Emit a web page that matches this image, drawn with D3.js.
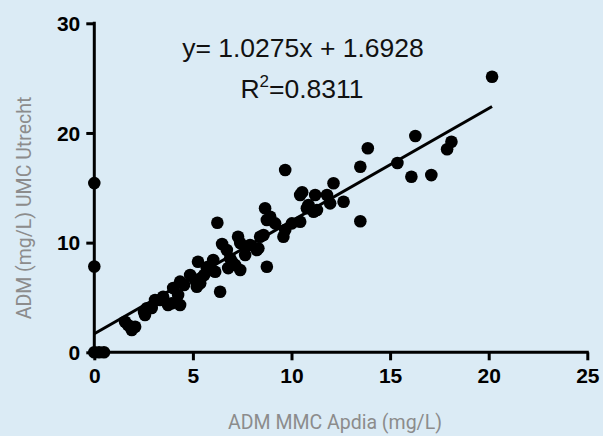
<!DOCTYPE html>
<html>
<head>
<meta charset="utf-8">
<script src="https://cdn.jsdelivr.net/npm/d3@7"></script>
<style>
  html, body { margin: 0; padding: 0; background: #dbebf5; }
  svg { display: block; }
</style>
</head>
<body>
<svg id="chart" width="603" height="436"></svg>
<script>
// ADM measured at MMC (Apdia) vs UMC Utrecht, mg/L
const xValues = [
  0, 0, 0, 0.24, 0.49,
  1.56, 1.90, 2.07, 1.71, 2.57, 2.66, 2.91, 2.52,
  3.49, 3.74, 3.93, 4.35, 3.33, 4.00, 4.35, 4.86, 4.55, 5.20,
  5.26, 5.37, 5.71, 5.77, 6.03, 6.13, 6.24, 6.38,
  6.72, 6.89, 7.29, 7.14, 7.40, 8.24, 8.41, 8.75,
  8.66, 8.75, 9.68, 8.92, 9.17, 9.68, 10.02, 10.44, 9.59, 8.58, 8.32,
  10.44, 11.20, 10.86, 11.29, 11.80, 12.13, 11.96, 12.64, 13.49,
  13.49, 13.87, 15.37, 16.08, 16.28, 17.09, 17.89, 18.11, 20.17,
  10.78, 11.12, 10.54,
  6.48, 6.99, 7.65, 7.90, 6.79, 7.40,
  5.11, 5.57, 5.87, 3.08, 4.25
];
const yValues = [
  15.43, 7.82, 0, 0, 0,
  2.79, 2.03, 2.33, 2.49, 3.40, 4.01, 4.04, 3.70,
  5.07, 4.31, 4.47, 4.31, 4.77, 5.86, 6.44, 7.05, 6.13, 5.98,
  8.26, 6.29, 7.66, 7.80, 8.41, 7.35, 11.81, 5.52,
  9.33, 8.57, 10.54, 7.96, 9.96, 9.33, 10.54, 7.80,
  13.13, 12.06, 16.62, 12.36, 11.76, 11.15, 11.76, 11.91, 10.54, 10.69, 9.48,
  14.34, 14.34, 13.43, 12.97, 14.34, 15.41, 13.58, 13.73, 11.95,
  16.92, 18.60, 17.26, 16.01, 19.72, 16.16, 18.51, 19.20, 25.12,
  13.13, 12.82, 14.60,
  9.87, 8.23, 8.87, 9.78, 7.68, 7.50,
  6.59, 7.05, 7.50, 4.77, 5.22
];

// Linear fit reported on the chart
const slope = 1.0275;
const intercept = 1.6928;
const rSquared = 0.8311;

const xTicks = [0, 5, 10, 15, 20, 25];
const yTicks = [0, 10, 20, 30];

const xTitle = "ADM MMC Apdia (mg/L)";
const yTitle = "ADM (mg/L) UMC Utrecht";

const svg = d3.select("#chart");

const x = d3.scaleLinear().domain([0, 25]).range([94.3, 587.3]);
const y = d3.scaleLinear().domain([0, 30]).range([352.3, 23.3]);

const tickFont = "'Liberation Sans', Arial, sans-serif";

// Axes
const xAxis = svg.append("g")
  .attr("transform", `translate(0,${y(0)})`)
  .call(d3.axisBottom(x).tickValues(xTicks).tickSize(8).tickPadding(8).tickFormat(d3.format("d")));
const yAxis = svg.append("g")
  .attr("transform", `translate(${x(0)},0)`)
  .call(d3.axisLeft(y).tickValues(yTicks).tickSize(8).tickPadding(6).tickFormat(d3.format("d")));

[xAxis, yAxis].forEach(g => {
  g.select(".domain").remove();
  g.selectAll(".tick line").attr("stroke", "#000").attr("stroke-width", 3);
  g.selectAll(".tick text")
    .attr("fill", "#000")
    .style("font-family", tickFont)
    .style("font-weight", "bold")
    .style("font-size", "21px");
});
xAxis.selectAll(".tick text").attr("dy", "0.71em");
yAxis.selectAll(".tick text").attr("dy", "0.35em");

// Plain axis lines
svg.append("line")
  .attr("x1", x(0) - 1.5).attr("x2", x(25) + 1.5)
  .attr("y1", y(0)).attr("y2", y(0))
  .attr("stroke", "#000").attr("stroke-width", 3);
svg.append("line")
  .attr("x1", x(0)).attr("x2", x(0))
  .attr("y1", y(30) - 1.5).attr("y2", y(0) + 1.5)
  .attr("stroke", "#000").attr("stroke-width", 3);

// Regression line across the measured range
const points = xValues.map((v, i) => ({ x: v, y: yValues[i] }));
const xExt = d3.extent(xValues);
svg.append("line")
  .attr("x1", x(xExt[0])).attr("y1", y(slope * xExt[0] + intercept))
  .attr("x2", x(xExt[1])).attr("y2", y(slope * xExt[1] + intercept))
  .attr("stroke", "#000").attr("stroke-width", 3);

// Data points
svg.append("g").selectAll("circle")
  .data(points)
  .join("circle")
  .attr("cx", d => x(d.x))
  .attr("cy", d => y(d.y))
  .attr("r", 6.3)
  .attr("fill", "#000");

// Fit annotation
svg.append("text")
  .attr("x", 303).attr("y", 57)
  .attr("text-anchor", "middle")
  .style("font-family", tickFont)
  .style("font-size", "26.5px")
  .attr("fill", "#111")
  .text(`y= ${slope}x + ${intercept}`);

const r2 = svg.append("text")
  .attr("x", 302).attr("y", 98)
  .attr("text-anchor", "middle")
  .style("font-family", tickFont)
  .style("font-size", "26.5px")
  .attr("fill", "#111");
r2.append("tspan").text("R");
r2.append("tspan").attr("dy", -11).style("font-size", "17px").text("2");
r2.append("tspan").attr("dy", 11).text(`=${rSquared}`);

// Axis titles
svg.append("text")
  .attr("x", 335).attr("y", 429)
  .attr("text-anchor", "middle")
  .style("font-family", "Roboto, 'DejaVu Sans', sans-serif")
  .style("font-size", "19.5px")
  .attr("fill", "#8c8c8c")
  .text(xTitle);

svg.append("text")
  .attr("transform", "translate(31,208) rotate(-90)")
  .attr("text-anchor", "middle")
  .style("font-family", "Roboto, 'DejaVu Sans', sans-serif")
  .style("font-size", "19.5px")
  .attr("fill", "#8c8c8c")
  .text(yTitle);
</script>
</body>
</html>
